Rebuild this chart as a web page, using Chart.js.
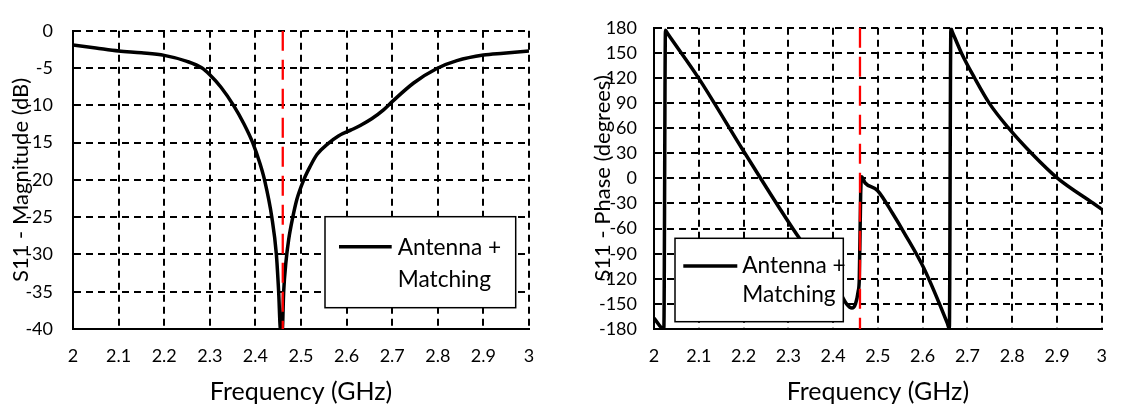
<!DOCTYPE html>
<html>
<head>
<meta charset="utf-8">
<script src="https://cdn.jsdelivr.net/npm/chart.js@4.4.1/dist/chart.umd.min.js"></script>
<style>
  html, body { margin: 0; padding: 0; background: #fff; }
  #wrap { position: relative; width: 1123px; height: 406px; }
  #magChart { position: absolute; left: 0; top: 0; }
  #phaseChart { position: absolute; left: 561px; top: 0; }
</style>
</head>
<body>
<div id="wrap">
  <canvas id="magChart" width="561" height="406"></canvas>
  <canvas id="phaseChart" width="562" height="406"></canvas>
</div>
<script>
// x axis (shared)
const xTickLabels = ['2', '2.1', '2.2', '2.3', '2.4', '2.5', '2.6', '2.7', '2.8', '2.9', '3'];
const legendLines = ['Antenna +', 'Matching'];

// S11 magnitude (dB)
const freqMag = [2.0, 2.05, 2.1, 2.15, 2.2, 2.25, 2.283, 2.3, 2.325, 2.352, 2.375, 2.394, 2.41, 2.42,
  2.436, 2.446, 2.451, 2.455, 2.459, 2.462, 2.467, 2.473, 2.482, 2.491, 2.506, 2.52, 2.535, 2.56,
  2.582, 2.61, 2.63, 2.655, 2.681, 2.7, 2.747, 2.798, 2.842, 2.9, 2.944, 3.0];
const magDb = [-1.9, -2.3, -2.7, -2.95, -3.3, -4.1, -5, -5.9, -7.6, -10, -12.5, -15, -17.8, -20,
  -25, -30, -35, -40, -40, -35, -31, -28, -25, -22.6, -20, -18.2, -16.6, -15.1,
  -14.1, -13.3, -12.7, -11.8, -10.6, -9.5, -7.0, -5.05, -4.0, -3.25, -3.0, -2.7];

// S11 phase (degrees)
const freqPhase = [2.0, 2.022, 2.0256, 2.03, 2.1, 2.202, 2.329, 2.413, 2.43, 2.442, 2.45, 2.456, 2.4585,
  2.4615, 2.4635, 2.4716, 2.499, 2.533, 2.559, 2.603, 2.655, 2.6596, 2.663, 2.666, 2.6865, 2.716,
  2.7486, 2.792, 2.843, 2.9016, 2.9817, 3.0];
const phaseDeg = [-167, -180, 177, 173.5, 119.6, 31, -74.9, -134, -150, -155, -150, -135, -120,
  -20, 2, -5.5, -14.4, -42, -65.3, -107.7, -173, -179.5, 179.3, 175.5, 150, 120,
  90, 60, 30, 0, -30, -37];

// resonance marker
const markerFreq = [2.46, 2.46];
const markerMag = [0, -40];
const markerPhase = [180, -180];

const FONT = 'Lato';

function pts(xs, ys) {
  return xs.map((x, i) => ({ x: x, y: ys[i] }));
}

// draws the boxed two-line legend on top of the plot
const boxLegend = {
  id: 'boxLegend',
  afterDatasetsDraw(chart, args, opts) {
    const ctx = chart.ctx;
    const b = opts.box;
    ctx.save();
    ctx.fillStyle = '#fff';
    ctx.fillRect(b[0], b[1], b[2] - b[0], b[3] - b[1]);
    ctx.strokeStyle = '#000';
    ctx.lineWidth = 1.5;
    ctx.strokeRect(b[0], b[1], b[2] - b[0], b[3] - b[1]);
    ctx.beginPath();
    ctx.lineWidth = 3.5;
    ctx.moveTo(opts.line[0], opts.line[2]);
    ctx.lineTo(opts.line[1], opts.line[2]);
    ctx.stroke();
    ctx.fillStyle = '#000';
    ctx.font = '22.7px ' + FONT;
    ctx.textBaseline = 'alphabetic';
    ctx.textAlign = 'left';
    legendLines.forEach((t, i) => ctx.fillText(t, opts.textX, opts.baselines[i]));
    ctx.restore();
  }
};

function makeOptions(cfg) {
  return {
    responsive: false,
    animation: false,
    devicePixelRatio: 1,
    layout: { padding: cfg.padding },
    plugins: {
      legend: { display: false },
      tooltip: { enabled: false },
      boxLegend: cfg.legend
    },
    scales: {
      x: {
        type: 'linear',
        min: 2, max: 3,
        afterFit: s => { s.height = 77; },
        ticks: {
          stepSize: 0.1,
          autoSkip: false,
          maxRotation: 0,
          padding: 16,
          color: '#000',
          font: { family: FONT, size: 18 },
          callback: (v, i) => xTickLabels[i]
        },
        grid: { color: '#000', lineWidth: 2, drawTicks: false },
        // in v4 border.dash is the dash of the grid lines, the axis line stays solid
        border: { display: true, color: '#000', width: 2, dash: [7, 5] },
        title: {
          display: true,
          text: 'Frequency (GHz)',
          color: '#000',
          font: { family: FONT, size: 25, lineHeight: 1 },
          padding: { top: 0, bottom: 2 }
        }
      },
      y: {
        min: cfg.yMin, max: cfg.yMax,
        afterFit: s => { s.width = cfg.yWidth; },
        ticks: {
          stepSize: cfg.yStep,
          autoSkip: false,
          padding: cfg.yTickPad,
          color: '#000',
          font: { family: FONT, size: 18 }
        },
        grid: { color: '#000', lineWidth: 2, drawTicks: false },
        border: { display: true, color: '#000', width: 2, dash: [7, 5] },
        title: {
          display: true,
          text: cfg.yTitle,
          color: '#000',
          font: { family: FONT, size: 22, lineHeight: 1 },
          padding: { top: cfg.yTitlePad, bottom: 0 }
        }
      }
    }
  };
}

new Chart(document.getElementById('magChart'), {
  type: 'line',
  data: {
    datasets: [
      {
        data: pts(markerFreq, markerMag),
        borderColor: '#ff0000', borderWidth: 2.3, borderDash: [20, 9],
        pointRadius: 0, order: 0
      },
      {
        data: pts(freqMag, magDb),
        borderColor: '#000', borderWidth: 3.5,
        pointRadius: 0, cubicInterpolationMode: 'monotone', order: 1
      }
    ]
  },
  options: makeOptions({
    padding: { left: 0, right: 32, top: 17, bottom: 0 },
    yMin: -40, yMax: 0, yStep: 5, yWidth: 73, yTickPad: 20,
    yTitle: 'S11 - Magnitude (dB)', yTitlePad: 10,
    legend: { box: [325, 216.7, 515.7, 307.7], line: [339, 391.7, 246.7], textX: 397.7, baselines: [255, 286.7] }
  }),
  plugins: [boxLegend]
});

new Chart(document.getElementById('phaseChart'), {
  type: 'line',
  data: {
    datasets: [
      {
        data: pts(markerFreq, markerPhase),
        borderColor: '#ff0000', borderWidth: 2.3, borderDash: [20, 9],
        pointRadius: 0, order: 0
      },
      {
        data: pts(freqPhase, phaseDeg),
        borderColor: '#000', borderWidth: 3.5,
        pointRadius: 0, cubicInterpolationMode: 'monotone', order: 1
      }
    ]
  },
  options: makeOptions({
    padding: { left: 0, right: 11, top: 18, bottom: 0 },
    yMin: -180, yMax: 180, yStep: 30, yWidth: 93, yTickPad: 17,
    yTitle: 'S11 - Phase (degrees)', yTitlePad: 31,
    legend: { box: [114, 238.3, 282.3, 321.7], line: [122.3, 176.3, 266], textX: 181.3, baselines: [273.3, 302] }
  }),
  plugins: [boxLegend]
});
</script>
</body>
</html>
